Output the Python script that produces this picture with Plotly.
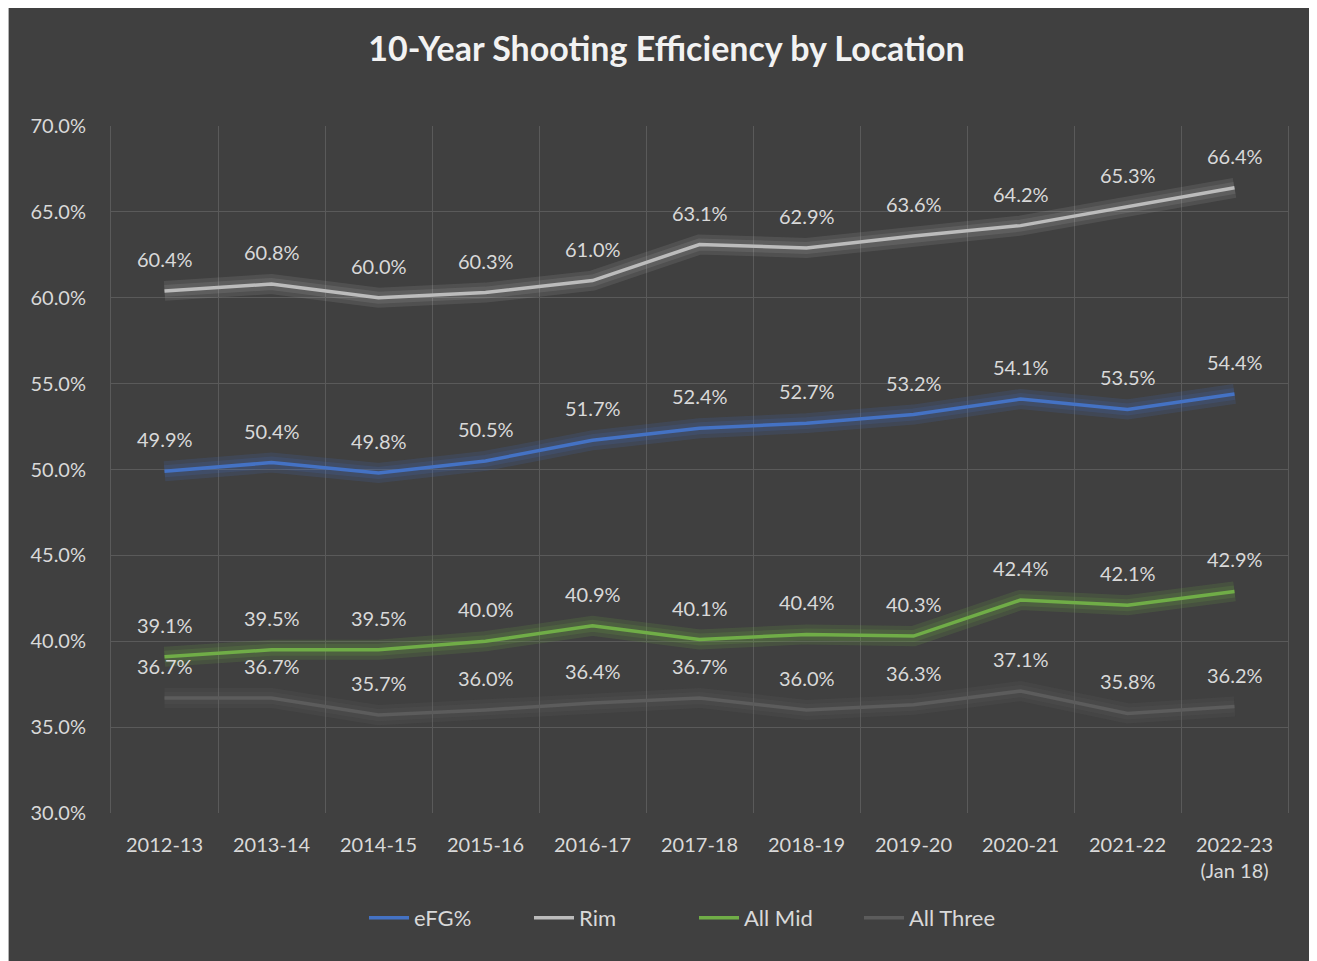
import plotly.graph_objects as go

seasons = ["2012-13", "2013-14", "2014-15", "2015-16", "2016-17", "2017-18",
           "2018-19", "2019-20", "2020-21", "2021-22", "2022-23<br>(Jan 18)"]
efg = [49.9, 50.4, 49.8, 50.5, 51.7, 52.4, 52.7, 53.2, 54.1, 53.5, 54.4]
rim = [60.4, 60.8, 60.0, 60.3, 61.0, 63.1, 62.9, 63.6, 64.2, 65.3, 66.4]
all_mid = [39.1, 39.5, 39.5, 40.0, 40.9, 40.1, 40.4, 40.3, 42.4, 42.1, 42.9]
all_three = [36.7, 36.7, 35.7, 36.0, 36.4, 36.7, 36.0, 36.3, 37.1, 35.8, 36.2]

series = [
    ("eFG%", efg, "#4472c4", "rgba(68,114,196,0.16)"),
    ("Rim", rim, "#bcbcbc", "rgba(225,225,225,0.10)"),
    ("All Mid", all_mid, "#70ad47", "rgba(112,173,71,0.16)"),
    ("All Three", all_three, "#5c5c5c", "rgba(120,120,120,0.10)"),
]

FONT = "Lato"
TXT = "#d9d9d9"
GRID = "#5a5a5a"

# figure is placed at an 8px page offset; layout numbers are in figure pixels
L, T, PW, PH = 103, 118, 1177, 687
W, H = 1317, 961

fig = go.Figure()

for name, vals, col, glow in series:
    for w in (20, 12):
        fig.add_trace(go.Scatter(x=seasons, y=vals, mode="lines", showlegend=False,
                                 hoverinfo="skip", line=dict(color=glow, width=w)))

for name, vals, col, glow in series:
    fig.add_trace(go.Scatter(x=seasons, y=vals, mode="lines", name=name,
                             line=dict(color=col, width=3.5)))

annotations = []
for name, vals, col, glow in series:
    for s, v in zip(seasons, vals):
        annotations.append(dict(x=s, y=v, xref="x", yref="y", text=f"{v:.1f}%",
                                showarrow=False, yshift=32, yanchor="middle",
                                font=dict(family=FONT, size=20, color=TXT)))

fig.update_layout(
    width=W, height=H,
    margin=dict(l=L, r=W - L - PW, t=T, b=H - T - PH, autoexpand=False),
    paper_bgcolor="white",
    plot_bgcolor="#404040",
    title=dict(text="<b>10-Year Shooting Efficiency by Location</b>",
               x=0.5, xref="container", xanchor="center", y=1 - 41 / H, yanchor="middle",
               font=dict(family=FONT, size=34, color="#f2f2f2")),
    font=dict(family=FONT, size=20, color=TXT),
    xaxis=dict(type="category", categoryorder="array", categoryarray=seasons,
               range=[-0.5, 10.5], tickson="boundaries", tickangle=0,
               showgrid=True, gridcolor=GRID, gridwidth=1, zeroline=False,
               showline=False, ticks="", ticklabelstandoff=18,
               tickfont=dict(family=FONT, size=20, color=TXT)),
    yaxis=dict(range=[30, 70], dtick=5, tick0=30, ticksuffix="%", tickformat=".1f",
               showgrid=True, gridcolor=GRID, gridwidth=1, zeroline=False,
               showline=True, mirror=True, linecolor=GRID, linewidth=1,
               ticks="", ticklabelstandoff=20,
               tickfont=dict(family=FONT, size=20, color=TXT)),
    legend=dict(orientation="h", x=(376 - 8 - L - 12) / PW, xanchor="left",
                y=-(910 - 805) / PH, yanchor="middle",
                font=dict(family=FONT, size=22, color=TXT), bgcolor="rgba(0,0,0,0)",
                itemwidth=40, entrywidth=110, entrywidthmode="pixels"),
    annotations=annotations,
    shapes=[dict(type="rect", xref="paper", yref="paper", layer="below",
                 x0=(0 - L) / PW, x1=(1306 - L) / PW,
                 y0=(T + PH - H - 20) / PH, y1=(T + PH + 3) / PH,
                 fillcolor="#404040", line=dict(color="#d9d9d9", width=1.5))],
)

fig.write_html("out.html")
